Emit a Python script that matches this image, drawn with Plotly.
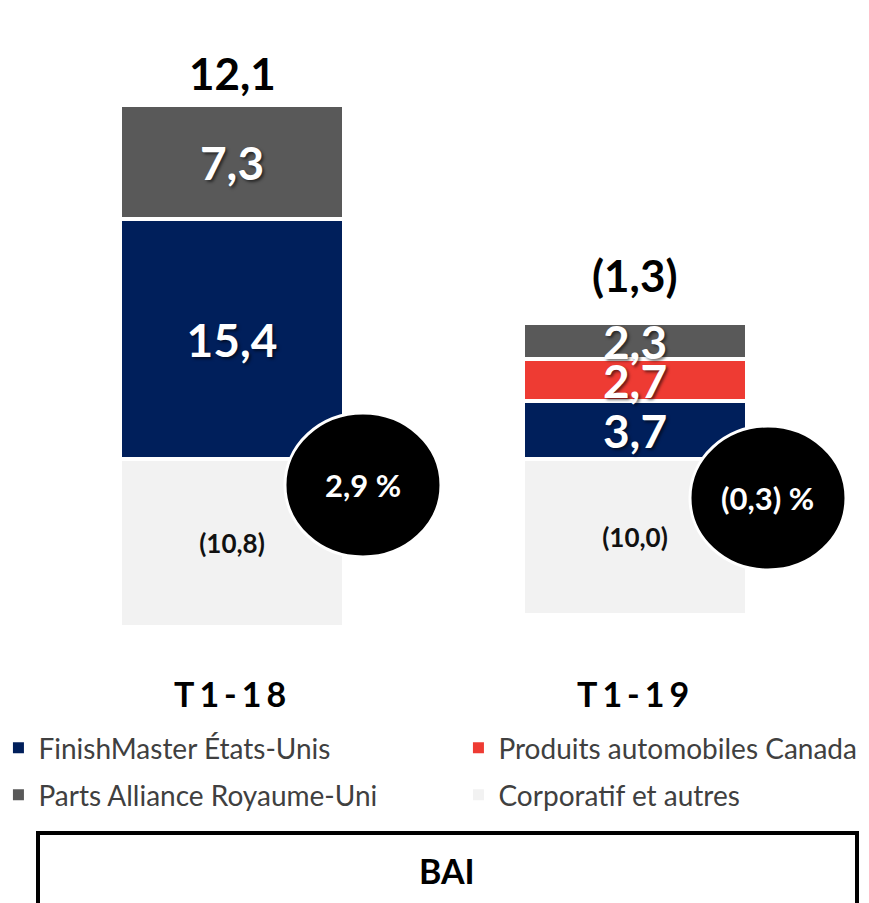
import plotly.graph_objects as go

# données (M$)
periodes = ["T1-18", "T1-19"]
finishmaster = [15.4, 3.7]
produits_canada = [None, 2.7]
parts_alliance = [7.3, 2.3]
corporatif = [-10.8, -10.0]
totaux = [12.1, -1.3]
marges = [2.9, -0.3]

def fr(v, suffix=""):
    s = f"{abs(v):.1f}".replace(".", ",")
    return f"({s}){suffix}" if v < 0 else f"{s}{suffix}"

FONT = "Lato"
PX = 15.6          # pixels par unité
ZERO = 451         # position du zéro (px depuis le haut de la figure)
H = 903
W = 869

x_pos = [0, 1]
bar_w = 0.558

fig = go.Figure()

shadow = "2px 2px 3px rgba(0,0,0,0.55)"
series = [
    ("Corporatif et autres", corporatif, "#F2F2F2", dict(color="#111111", size=26), "legend4"),
    ("FinishMaster États-Unis", finishmaster, "#001F5B", dict(color="white", size=46, shadow=shadow), "legend"),
    ("Produits automobiles Canada", produits_canada, "#EE3B33", dict(color="white", size=46, shadow=shadow), "legend2"),
    ("Parts Alliance Royaume-Uni", parts_alliance, "#595959", dict(color="white", size=46, shadow=shadow), "legend3"),
]
for name, vals, col, tf, leg in series:
    fig.add_trace(go.Bar(
        x=x_pos, y=vals, name=name, width=bar_w,
        marker=dict(color=col, line=dict(color="white", width=4)),
        text=[fr(v) if v is not None else "" for v in vals],
        textposition="inside", insidetextanchor="middle", textangle=0,
        constraintext="none",
        textfont=dict(family=FONT, weight="bold", **tf),
        hoverinfo="skip", showlegend=False,
    ))
    # entrée de légende (carré plein)
    fig.add_trace(go.Scatter(
        x=[None], y=[None], mode="markers", name=name, legend=leg,
        marker=dict(symbol="square", size=11, color=col), hoverinfo="skip",
    ))

# totaux au-dessus des barres
tops = [sum(v for v in (a, b, c) if v) for a, b, c in zip(finishmaster, produits_canada, parts_alliance)]
total_shift = [32, 48]
for x, top, tot, sh in zip(x_pos, tops, totaux, total_shift):
    fig.add_annotation(x=x, y=top, text=fr(tot), showarrow=False, yshift=sh,
                       font=dict(family=FONT, size=44, color="black", weight="bold"))

# pastilles de marge
pastille_dx = [0.325, 0.33]
pastille_y = [-1.67, -2.5]
rx, ry = 78 / 403, 72 / PX
for x, dx, cy, m in zip(x_pos, pastille_dx, pastille_y, marges):
    cx = x + dx
    fig.add_shape(type="circle", xref="x", yref="y", x0=cx - rx, x1=cx + rx, y0=cy - ry, y1=cy + ry,
                  fillcolor="black", line=dict(color="white", width=3), layer="above")
    fig.add_annotation(x=cx, y=cy, text=fr(m, " %"), showarrow=False,
                       font=dict(family=FONT, size=31, color="white", weight="bold"))

# libellés des périodes
for x, p in zip(x_pos, periodes):
    fig.add_annotation(x=x, y=(ZERO - 685) / PX, text=f"<span style='letter-spacing:5px'>{p}</span>",
                       showarrow=False, font=dict(family=FONT, size=34, color="black", weight="bold"))

# encadré BAI
fig.add_shape(type="rect", xref="paper", yref="paper",
              x0=30 / W, x1=849 / W, y0=-0.2, y1=1 - 825 / H,
              line=dict(color="black", width=4), fillcolor="white")
fig.add_annotation(xref="paper", yref="paper", x=439 / W, y=1 - 862 / H, text="BAI",
                   xanchor="center", yanchor="middle",
                   showarrow=False, font=dict(family=FONT, size=34, color="black", weight="bold"))

def leg(x, y):
    return dict(orientation="h", xanchor="left", yanchor="middle", x=x, y=y,
                bgcolor="rgba(0,0,0,0)", itemwidth=30,
                font=dict(family=FONT, size=28, color="#404040"))

col1, col2 = -0.011, -0.011 + 460 / W
row1, row2 = 1 - 740 / H, 1 - 787 / H

fig.update_layout(
    width=W, height=H,
    margin=dict(l=0, r=0, t=0, b=0, autoexpand=False),
    paper_bgcolor="white", plot_bgcolor="white",
    barmode="relative", bargap=0,
    showlegend=True,
    legend=leg(col1, row1),
    legend2=leg(col2, row1),
    legend3=leg(col1, row2),
    legend4=leg(col2, row2),
    xaxis=dict(range=[-224 / 403, (W - 224) / 403], visible=False, fixedrange=True),
    yaxis=dict(range=[-(H - ZERO) / PX, ZERO / PX], visible=False, fixedrange=True),
)

fig.write_html("out.html")
